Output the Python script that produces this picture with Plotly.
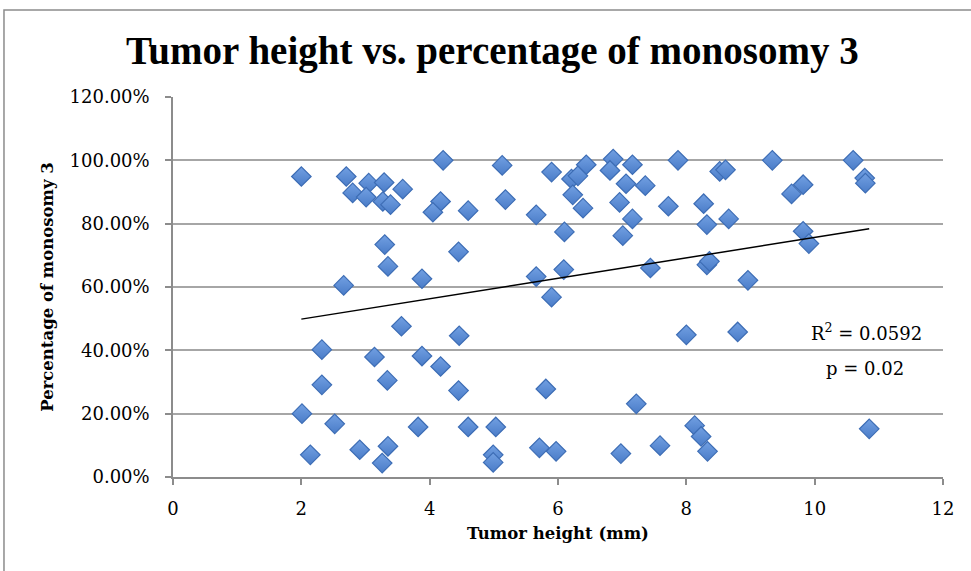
import numpy as np
import plotly.graph_objects as go

# Tumor height (mm)
tumor_height = [
    2.00, 2.70, 3.05, 3.29, 2.80, 3.01, 3.58, 3.27, 3.39, 3.30,
    3.35, 2.66, 3.88, 3.56, 2.32, 3.14, 3.88, 2.32, 3.34, 2.01,
    2.52, 3.82, 2.14, 2.91, 3.35, 3.26, 4.21, 5.13, 5.90, 6.21,
    6.44, 6.31, 6.86, 6.81, 7.16, 7.06, 7.36, 7.87, 4.17, 4.05,
    4.60, 5.18, 5.66, 6.23, 6.39, 6.96, 7.72, 7.16, 7.01, 6.10,
    4.45, 5.66, 6.09, 5.90, 7.44, 4.46, 4.17, 4.45, 5.81, 7.22,
    4.60, 5.03, 4.99, 4.99, 5.71, 5.97, 6.98, 7.59, 8.52, 8.61,
    9.34, 10.60, 10.78, 10.79, 9.82, 9.64, 8.27, 8.32, 8.66, 9.82,
    9.91, 8.32, 8.36, 8.96, 8.00, 8.80, 8.13, 8.23, 8.33, 10.85,
]
# Percentage of monosomy 3 (%)
monosomy3_pct = [
    94.9, 94.9, 92.8, 93.0, 89.7, 88.4, 90.9, 87.0, 86.0, 73.4,
    66.5, 60.5, 62.6, 47.6, 40.2, 37.9, 38.2, 29.1, 30.5, 20.0,
    16.8, 15.8, 7.0, 8.6, 9.7, 4.4, 100.0, 98.4, 96.3, 94.1,
    98.6, 95.1, 100.4, 96.8, 98.6, 92.6, 92.0, 100.0, 87.0, 83.6,
    84.1, 87.6, 82.8, 89.1, 84.9, 86.7, 85.5, 81.5, 76.2, 77.4,
    71.1, 63.3, 65.5, 56.8, 66.0, 44.6, 34.9, 27.3, 27.8, 23.1,
    15.8, 15.8, 7.0, 4.6, 9.2, 8.1, 7.4, 9.9, 96.5, 97.0,
    100.0, 100.0, 94.4, 92.8, 92.3, 89.4, 86.3, 79.7, 81.5, 77.6,
    73.7, 67.0, 68.1, 62.1, 44.9, 45.8, 16.2, 12.8, 8.1, 15.2,
]
x_ticks = [0, 2, 4, 6, 8, 10, 12]
y_ticks = [0, 0.2, 0.4, 0.6, 0.8, 1.0, 1.2]
r2_text = "R<sup>2</sup> = 0.0592"
p_text = "p = 0.02"

x = np.array(tumor_height)
y = np.array(monosomy3_pct) / 100.0
slope, intercept = np.polyfit(x, y, 1)
tx = np.array([x.min(), x.max()])
ty = slope * tx + intercept

SERIF = "DejaVu Serif"
fig = go.Figure()
fig.add_trace(go.Scatter(
    x=x, y=y, mode="markers",
    marker=dict(symbol="diamond", size=15, color="#72a0e2",
                line=dict(color="#3d6db5", width=1.2),
                gradient=dict(type="vertical", color="#4a7cc8")),
    showlegend=False, hoverinfo="x+y",
))
fig.add_trace(go.Scatter(
    x=tx, y=ty, mode="lines", line=dict(color="black", width=1.5),
    showlegend=False, hoverinfo="skip",
))

fig.update_layout(
    width=971, height=571,
    margin=dict(l=173, r=28, t=97, b=94),
    paper_bgcolor="white", plot_bgcolor="white",
    font=dict(family=SERIF, color="black", size=16),
    title=dict(text="<b>Tumor height vs. percentage of monosomy 3</b>",
               font=dict(family="Liberation Serif", size=39, color="black"),
               x=0.507, xanchor="center", y=0.912, yanchor="middle"),
    xaxis=dict(range=[0, 12], tickvals=x_ticks, showgrid=False,
               showline=True, linecolor="#8c8c8c", linewidth=1.5,
               ticks="outside", ticklen=6, tickcolor="#8c8c8c", tickwidth=1.5,
               ticklabelstandoff=9,
               tickfont=dict(family=SERIF, size=18), zeroline=False,
               title=dict(text="<b>Tumor height (mm)</b>",
                          font=dict(family=SERIF, size=16.5), standoff=9)),
    yaxis=dict(range=[0, 1.2], tickvals=y_ticks, tickformat=".2%",
               showgrid=True, gridcolor="#a6a6a6", gridwidth=1.5,
               showline=True, linecolor="#8c8c8c", linewidth=1.5,
               ticks="outside", ticklen=6, tickcolor="#8c8c8c", tickwidth=1.5,
               ticklabelstandoff=12,
               tickfont=dict(family=SERIF, size=18), zeroline=False,
               title=dict(text="<b>Percentage of monosomy 3</b>",
                          font=dict(family=SERIF, size=16.5), standoff=12)),
    shapes=[dict(type="rect", xref="paper", yref="paper",
                 x0=-0.2195, x1=1.2, y0=-0.5, y1=1.2289,
                 line=dict(color="#8c8c8c", width=1.5), layer="below")],
    annotations=[
        dict(text=r2_text, xref="x", yref="paper", x=10.8, y=(477 - 332) / 380,
             showarrow=False, font=dict(family=SERIF, size=18), xanchor="center", yanchor="middle"),
        dict(text=p_text, xref="x", yref="paper", x=10.78, y=(477 - 368) / 380,
             showarrow=False, font=dict(family=SERIF, size=18), xanchor="center", yanchor="middle"),
    ],
)
fig.write_html("out.html", config={"displayModeBar": False},
               post_script="document.body.style.margin='0';")
